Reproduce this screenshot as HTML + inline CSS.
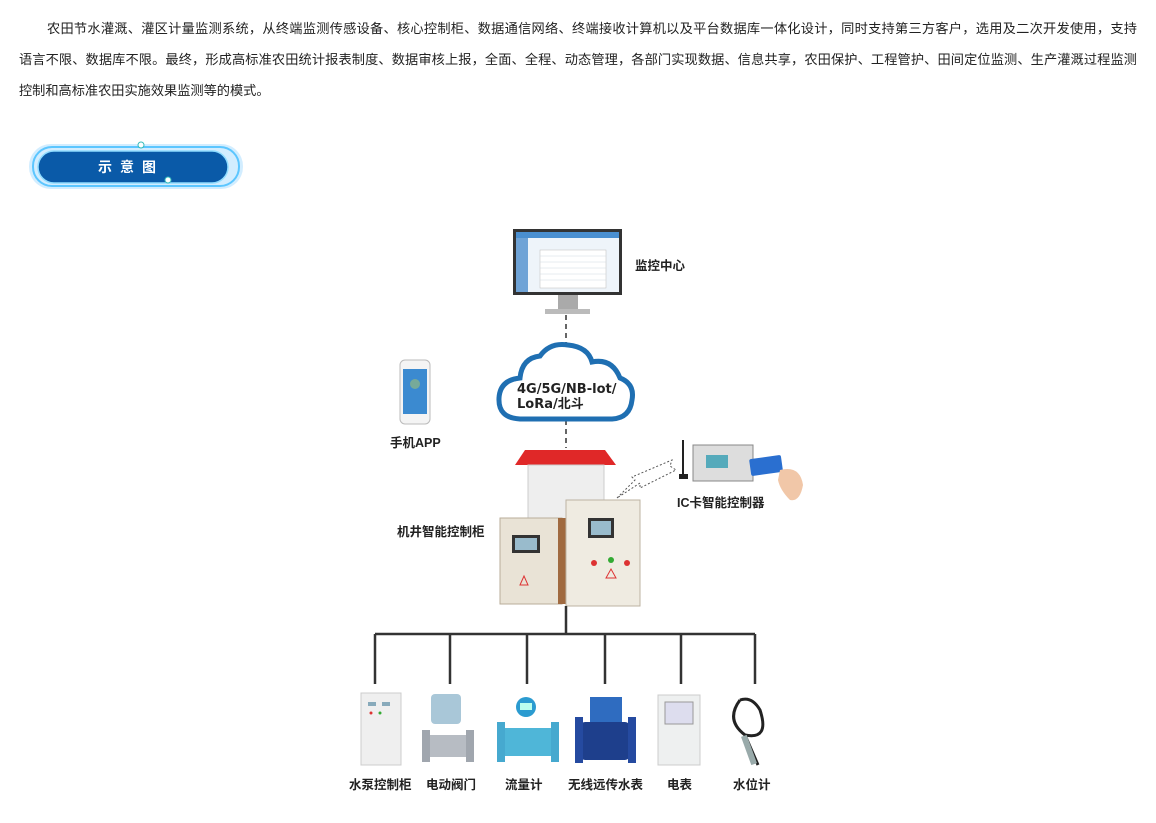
<!DOCTYPE html>
<html><head><meta charset="utf-8"><style>
body{margin:0;width:1156px;height:823px;background:#fff;position:relative;overflow:hidden;font-family:"Liberation Sans","Noto Sans CJK SC",sans-serif}
.l{position:absolute;font-size:13.2px;color:#222;line-height:31px;white-space:nowrap;text-align:justify;text-align-last:justify}
.a{position:absolute}
.lb{position:absolute;font-size:12.5px;font-weight:bold;color:#222;white-space:nowrap}
</style></head><body>
<div class="l" style="left:47px;top:13px;width:1090px">农田节水灌溉、灌区计量监测系统，从终端监测传感设备、核心控制柜、数据通信网络、终端接收计算机以及平台数据库一体化设计，同时支持第三方客户，选用及二次开发使用，支持</div>
<div class="l" style="left:19px;top:44px;width:1118px">语言不限、数据库不限。最终，形成高标准农田统计报表制度、数据审核上报，全面、全程、动态管理，各部门实现数据、信息共享，农田保护、工程管护、田间定位监测、生产灌溉过程监测</div>
<div class="l" style="left:19px;top:75px;text-align:left;text-align-last:left">控制和高标准农田实施效果监测等的模式。</div>

<svg class="a" style="left:0;top:0" width="1156" height="823">
<rect x="29" y="144" width="214" height="45" rx="22" fill="#bfe6ff" opacity="0.7"/>
<rect x="33" y="147" width="206" height="39" rx="19" fill="none" stroke="#5cc6ff" stroke-width="2"/>
<rect x="38" y="151" width="190" height="32" rx="16" fill="#0a5aa8" stroke="#8fdcff" stroke-width="1.5"/>
<circle cx="141" cy="145" r="3" fill="#fff" stroke="#3bb"/>
<circle cx="168" cy="180" r="3" fill="#fff" stroke="#3bb"/>
<text x="98" y="172" fill="#fff" font-size="14" font-weight="bold" letter-spacing="8" font-family="Liberation Sans,Noto Sans CJK SC,sans-serif">示意图</text>

<rect x="513" y="229" width="109" height="66" fill="#333"/>
<rect x="516" y="232" width="103" height="60" fill="#eef4fa"/>
<rect x="516" y="232" width="103" height="6" fill="#4a8fd0"/>
<rect x="516" y="238" width="12" height="54" fill="#6fa3d6"/>
<rect x="540" y="250" width="66" height="38" fill="#fff" stroke="#bbb" stroke-width="0.5"/>
<g stroke="#cfd8e0" stroke-width="0.5"><line x1="540" y1="256" x2="606" y2="256"/><line x1="540" y1="262" x2="606" y2="262"/><line x1="540" y1="268" x2="606" y2="268"/><line x1="540" y1="274" x2="606" y2="274"/><line x1="540" y1="280" x2="606" y2="280"/></g>
<rect x="558" y="295" width="20" height="15" fill="#aaa"/>
<rect x="545" y="309" width="45" height="5" fill="#bbb"/>
<line x1="566" y1="315" x2="566" y2="347" stroke="#333" stroke-width="1.5" stroke-dasharray="5 4"/>
<line x1="566" y1="420" x2="566" y2="448" stroke="#333" stroke-width="1.5" stroke-dasharray="5 4"/>
<path d="M520 419 Q498 418 499 398 Q500 380 520 378 Q522 358 540 356 Q550 342 568 345 Q588 347 592 362 Q612 358 620 378 Q635 384 632 400 Q630 418 612 419 Z" fill="#fff" stroke="#1f6fb2" stroke-width="5"/>
<text x="517" y="393" font-size="13" font-weight="bold" fill="#222" font-family="DejaVu Sans,Noto Sans CJK SC,sans-serif">4G/5G/NB-lot/</text>
<text x="517" y="408" font-size="13" font-weight="bold" fill="#222" font-family="DejaVu Sans,Noto Sans CJK SC,sans-serif">LoRa/北斗</text>
<rect x="400" y="360" width="30" height="64" rx="5" fill="#f4f4f4" stroke="#bbb"/>
<rect x="403" y="369" width="24" height="45" fill="#3b8ad0"/>
<circle cx="415" cy="384" r="5" fill="#7a9"/>
<polygon points="525,450 605,450 616,465 515,465" fill="#e02828"/>
<rect x="528" y="465" width="76" height="55" fill="#eee" stroke="#ccc"/>
<rect x="500" y="518" width="62" height="86" fill="#e9e3d6" stroke="#b9ae9a"/>
<rect x="558" y="518" width="8" height="86" fill="#a06a40"/>
<rect x="512" y="535" width="28" height="18" fill="#333"/>
<rect x="515" y="538" width="22" height="12" fill="#9bc"/>
<polygon points="520,585 524,576 528,585" fill="none" stroke="#d33"/>
<rect x="566" y="500" width="74" height="106" fill="#efebe1" stroke="#bcb3a2"/>
<rect x="588" y="518" width="26" height="20" fill="#333"/>
<rect x="591" y="521" width="20" height="14" fill="#9bc"/>
<circle cx="594" cy="563" r="3" fill="#d33"/><circle cx="611" cy="560" r="3" fill="#3a3"/><circle cx="627" cy="563" r="3" fill="#d33"/>
<polygon points="606,578 611,569 616,578" fill="none" stroke="#d33"/>
<path d="M617 498 L635 480 L632 477 L672 460 L670 466 L676 470 L640 488 L640 483 Z" fill="none" stroke="#555" stroke-dasharray="2 2"/>
<line x1="683" y1="440" x2="683" y2="476" stroke="#222" stroke-width="2"/>
<rect x="679" y="474" width="9" height="5" fill="#222"/>
<rect x="693" y="445" width="60" height="36" fill="#ddd" stroke="#888"/>
<rect x="706" y="455" width="22" height="13" fill="#5ab"/>
<rect x="750" y="457" width="32" height="17" rx="2" fill="#2a6fd0" transform="rotate(-8 766 465)"/>
<path d="M780 470 Q800 465 803 485 Q800 502 790 500 Q780 490 778 480 Z" fill="#f1c7a8"/>
<g stroke="#333" stroke-width="2.5" fill="none">
<line x1="566" y1="606" x2="566" y2="634"/>
<line x1="375" y1="634" x2="755" y2="634"/>
<line x1="375" y1="634" x2="375" y2="684"/>
<line x1="450" y1="634" x2="450" y2="684"/>
<line x1="527" y1="634" x2="527" y2="684"/>
<line x1="605" y1="634" x2="605" y2="684"/>
<line x1="681" y1="634" x2="681" y2="684"/>
<line x1="755" y1="634" x2="755" y2="684"/>
</g>
<rect x="361" y="693" width="40" height="72" fill="#efefef" stroke="#ccc"/>
<rect x="368" y="702" width="8" height="4" fill="#8ab"/><rect x="382" y="702" width="8" height="4" fill="#8ab"/>
<circle cx="371" cy="713" r="1.5" fill="#d33"/><circle cx="380" cy="713" r="1.5" fill="#3a3"/>
<rect x="431" y="694" width="30" height="30" rx="4" fill="#a9c7d8"/>
<rect x="426" y="735" width="46" height="22" rx="4" fill="#b7bcc3"/>
<rect x="422" y="730" width="8" height="32" fill="#a0a6ae"/><rect x="466" y="730" width="8" height="32" fill="#a0a6ae"/>
<rect x="499" y="728" width="58" height="28" rx="4" fill="#4fb6d8"/>
<rect x="497" y="722" width="8" height="40" fill="#46a9cf"/><rect x="551" y="722" width="8" height="40" fill="#46a9cf"/>
<circle cx="526" cy="707" r="10" fill="#2b9bd0"/><rect x="520" y="703" width="12" height="7" fill="#bfe"/>
<rect x="590" y="697" width="32" height="28" fill="#2f6cc0"/>
<rect x="580" y="722" width="50" height="38" rx="5" fill="#1e3f8c"/>
<rect x="575" y="717" width="8" height="46" fill="#254aa0"/><rect x="628" y="717" width="8" height="46" fill="#254aa0"/>
<rect x="658" y="695" width="42" height="70" fill="#eef0f0" stroke="#ccc"/>
<rect x="665" y="702" width="28" height="22" fill="#dde" stroke="#999"/>
<path d="M740 700 Q725 720 745 735 Q770 740 760 710 Q752 696 740 700 M745 735 L758 765" stroke="#222" stroke-width="3" fill="none"/>
<rect x="746" y="735" width="6" height="30" fill="#9aa" transform="rotate(-20 749 750)"/>
</svg>

<div class="lb" style="left:635px;top:255px">监控中心</div>
<div class="lb" style="left:390px;top:432px">手机APP</div>
<div class="lb" style="left:397px;top:521px">机井智能控制柜</div>
<div class="lb" style="left:677px;top:492px">IC卡智能控制器</div>
<div class="lb" style="left:349px;top:774px">水泵控制柜</div>
<div class="lb" style="left:426px;top:774px">电动阀门</div>
<div class="lb" style="left:505px;top:774px">流量计</div>
<div class="lb" style="left:568px;top:774px">无线远传水表</div>
<div class="lb" style="left:667px;top:774px">电表</div>
<div class="lb" style="left:733px;top:774px">水位计</div>
</body></html>
